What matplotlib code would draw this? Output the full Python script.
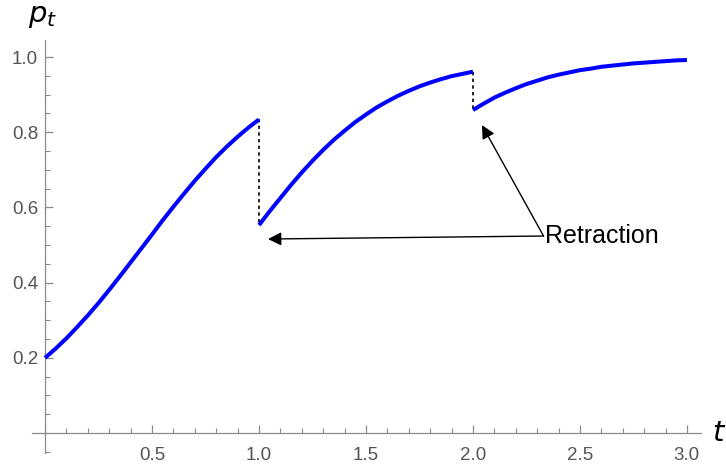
import matplotlib

matplotlib.use("Agg")

import matplotlib.pyplot as plt
from matplotlib.ticker import MultipleLocator

plt.rcParams["font.family"] = ["Liberation Sans", "DejaVu Sans"]

# values, one list per segment (step 0.05)
t_seg1 = [0.0, 0.05, 0.1, 0.15, 0.2, 0.25, 0.3, 0.35, 0.4, 0.45, 0.5,
          0.55, 0.6, 0.65, 0.7, 0.75, 0.8, 0.85, 0.9, 0.95, 1.0]
p_seg1 = [0.200, 0.225, 0.252, 0.282, 0.313, 0.346, 0.381, 0.417, 0.454, 0.491, 0.528,
          0.566, 0.602, 0.637, 0.671, 0.703, 0.734, 0.762, 0.788, 0.812, 0.834]

t_seg2 = [1.0, 1.05, 1.1, 1.15, 1.2, 1.25, 1.3, 1.35, 1.4, 1.45, 1.5,
          1.55, 1.6, 1.65, 1.7, 1.75, 1.8, 1.85, 1.9, 1.95, 2.0]
p_seg2 = [0.553, 0.590, 0.625, 0.660, 0.693, 0.724, 0.753, 0.780, 0.804, 0.827, 0.847,
          0.866, 0.882, 0.897, 0.910, 0.922, 0.932, 0.941, 0.949, 0.955, 0.961]

t_seg3 = [2.0, 2.05, 2.1, 2.15, 2.2, 2.25, 2.3, 2.35, 2.4, 2.45, 2.5,
          2.55, 2.6, 2.65, 2.7, 2.75, 2.8, 2.85, 2.9, 2.95, 3.0]
p_seg3 = [0.859, 0.876, 0.892, 0.905, 0.917, 0.928, 0.937, 0.946, 0.953, 0.959, 0.965,
          0.969, 0.974, 0.977, 0.980, 0.983, 0.985, 0.987, 0.989, 0.991, 0.992]

x_ticks = [0.5, 1.0, 1.5, 2.0, 2.5, 3.0]
y_ticks = [0.2, 0.4, 0.6, 0.8, 1.0]

label_text = "Retraction"
label_pos = (2.33, 0.524)
arrow_targets = [(1.042, 0.516), (2.042, 0.819)]

AXIS_GRAY = "#8a8a8a"
TICK_GRAY = "#555555"

fig = plt.figure(figsize=(7.26, 4.65), dpi=100)
ax = fig.add_axes([0.0441, 0.0258, 0.9215, 0.888])
ax.set_xlim(-0.061, 3.066)
ax.set_ylim(-0.053, 1.045)

for t, p in [(t_seg1, p_seg1), (t_seg2, p_seg2), (t_seg3, p_seg3)]:
    ax.plot(t, p, color="#0000ff", linewidth=2.9, solid_capstyle="butt",
            solid_joinstyle="round", zorder=3)

# dotted drops at the retraction times
ax.plot([t_seg1[-1], t_seg2[0]], [p_seg1[-1], p_seg2[0]], color="black",
        linewidth=1.2, linestyle=(0, (2, 2)), zorder=2)
ax.plot([t_seg2[-1], t_seg3[0]], [p_seg2[-1], p_seg3[0]], color="black",
        linewidth=1.2, linestyle=(0, (2, 2)), zorder=2)

for target in arrow_targets:
    ax.annotate("", xy=target, xytext=label_pos,
                arrowprops=dict(arrowstyle="-|>", color="black", lw=1.0,
                                mutation_scale=20, shrinkA=0, shrinkB=0))
ax.text(label_pos[0] + 0.005, label_pos[1], label_text, fontsize=18,
        ha="left", va="center", color="black")

# axes through the origin, Mathematica style
for side in ["top", "right"]:
    ax.spines[side].set_visible(False)
ax.spines["left"].set_position(("data", 0))
ax.spines["bottom"].set_position(("data", 0))
for side in ["left", "bottom"]:
    ax.spines[side].set_color(AXIS_GRAY)
    ax.spines[side].set_linewidth(0.9)

ax.set_xticks(x_ticks)
ax.set_xticklabels([f"{v:.1f}" for v in x_ticks])
ax.set_yticks(y_ticks)
ax.set_yticklabels([f"{v:.1f}" for v in y_ticks])
ax.xaxis.set_minor_locator(MultipleLocator(0.1))
ax.yaxis.set_minor_locator(MultipleLocator(0.05))
ax.tick_params(which="major", direction="in", length=6, width=0.9,
               color=AXIS_GRAY, labelcolor=TICK_GRAY, labelsize=13.5)
ax.tick_params(which="minor", direction="in", length=3.5, width=0.8, color=AXIS_GRAY)
ax.tick_params(axis="x", pad=10)
ax.tick_params(axis="y", pad=5)

fig.text(0.058, 0.965, r"$p_t$", fontsize=21, ha="center", va="center",
         math_fontfamily="dejavusans")
fig.text(0.99, 0.068, r"$t$", fontsize=21, ha="center", va="center",
         math_fontfamily="dejavusans")

fig.savefig("out.png", dpi=100)
